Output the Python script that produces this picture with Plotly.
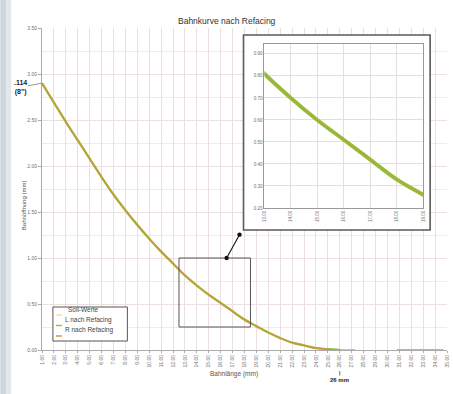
import plotly.graph_objects as go

# ---------------- data ----------------
x_mm = [1, 2, 3, 4, 5, 6, 7, 8, 9, 10, 11, 12, 13, 14, 15, 16, 17, 18, 19, 20,
        21, 22, 23, 24, 25, 26]
soll_werte = [2.90, 2.69, 2.48, 2.28, 2.08, 1.88, 1.69, 1.52, 1.36, 1.21, 1.07,
              0.94, 0.81, 0.70, 0.60, 0.51, 0.42, 0.33, 0.26, 0.19, 0.13, 0.08,
              0.05, 0.02, 0.01, 0.00]
l_nach_refacing = [2.90, 2.69, 2.48, 2.28, 2.08, 1.88, 1.69, 1.52, 1.36, 1.21,
                   1.07, 0.94, 0.81, 0.70, 0.60, 0.51, 0.42, 0.33, 0.26, 0.19,
                   0.13, 0.08, 0.05, 0.02, 0.01, 0.00]
r_nach_refacing = [2.90, 2.69, 2.48, 2.28, 2.08, 1.88, 1.69, 1.52, 1.36, 1.21,
                   1.07, 0.94, 0.81, 0.70, 0.60, 0.51, 0.42, 0.33, 0.26, 0.19,
                   0.13, 0.08, 0.05, 0.02, 0.01, 0.00]
r_tail_x = [27.3, None, 30.8, 34.7]
r_tail_y = [0.00, None, 0.00, 0.00]

series_names = ["Soll-Werte", "L nach Refacing", "R nach Refacing"]
title_text = "Bahnkurve nach Refacing"
x_title = "Bahnlänge (mm)"
y_title = "Bahnöffnung (mm)"
start_label = "<b>.114<br>(8\")</b>"
mark_label = "<b>26 mm</b>"
mark_x = 26
start_x, start_y = 1, 2.90
zoom_x = [12.5, 18.5]
zoom_y = [0.25, 1.0]

# ---------------- styling ----------------
C_SOLL = "#efe3a0"
C_L = "#8cc63f"
C_R = "#dc8e3c"
GRID = "#ecdfdf"
TXT = "#707070"
FONT = "Liberation Sans, Arial, sans-serif"

W, H = 453, 394
ML, MR, MT, MB = 42, 3, 28, 44
PW, PH = W - ML - MR, H - MT - MB


def px(xp):
    return (xp - ML) / PW


def py(yp):
    return (H - MB - yp) / PH


fig = go.Figure()

# main subplot traces
fig.add_trace(go.Scatter(x=x_mm, y=soll_werte, mode="lines", name=series_names[0],
                         line=dict(color=C_SOLL, width=0.8), xaxis="x", yaxis="y"))
fig.add_trace(go.Scatter(x=x_mm, y=l_nach_refacing, mode="lines", name=series_names[1],
                         line=dict(color=C_L, width=2.4, shape="spline"), xaxis="x", yaxis="y"))
fig.add_trace(go.Scatter(x=x_mm + r_tail_x, y=r_nach_refacing + r_tail_y, mode="lines",
                         name=series_names[2], connectgaps=False,
                         line=dict(color=C_R, width=1.3, shape="spline"), xaxis="x", yaxis="y"))

# frame subplot (white background behind the inset)
fig.add_trace(go.Scatter(x=[None], y=[None], mode="lines", xaxis="x2", yaxis="y2",
                         hoverinfo="skip", showlegend=False))

# inset traces
fig.add_trace(go.Scatter(x=x_mm, y=l_nach_refacing, mode="lines", showlegend=False,
                         line=dict(color=C_L, width=4, shape="spline"), xaxis="x3", yaxis="y3"))
fig.add_trace(go.Scatter(x=x_mm, y=r_nach_refacing, mode="lines", showlegend=False,
                         line=dict(color="#b9a236", width=1.4, shape="spline"), xaxis="x3", yaxis="y3"))

tick_font = dict(size=5, color=TXT, family=FONT)

fig.update_layout(
    width=W, height=H,
    margin=dict(l=ML, r=MR, t=MT, b=MB),
    paper_bgcolor="white", plot_bgcolor="white",
    showlegend=False,
    font=dict(family=FONT),
    xaxis=dict(domain=[0, 1], anchor="y", range=[1, 35], tick0=1, dtick=1,
               tickformat=".2f", tickangle=-90, tickfont=tick_font,
               showgrid=True, gridcolor=GRID, gridwidth=1, zeroline=False,
               showline=True, linecolor="#aaaaaa", ticks="outside", ticklen=2,
               tickcolor="#aaaaaa"),
    yaxis=dict(domain=[0, 1], anchor="x", range=[0, 3.5], tick0=0, dtick=0.5,
               tickformat=".2f", tickfont=tick_font,
               showgrid=True, gridcolor=GRID, gridwidth=1, zeroline=False,
               showline=True, linecolor="#aaaaaa", ticks="outside", ticklen=3,
               tickcolor="#aaaaaa",
               minor=dict(dtick=0.25, showgrid=True, gridcolor="#f2eaea")),
    xaxis2=dict(domain=[px(245), px(433)], anchor="y2", range=[0, 1], visible=True,
                showgrid=False, zeroline=False, showline=False, showticklabels=False,
                ticks=""),
    yaxis2=dict(domain=[py(230), py(35)], anchor="x2", range=[0, 1], visible=True,
                showgrid=False, zeroline=False, showline=False, showticklabels=False,
                ticks=""),
    xaxis3=dict(domain=[px(266), px(426)], anchor="y3", range=[13, 19], tick0=13, dtick=1,
                tickformat=".2f", tickangle=-90, tickfont=dict(size=4.5, color=TXT, family=FONT),
                showgrid=True, gridcolor="#e6dede", zeroline=False,
                showline=True, mirror=True, linecolor="#999999", ticks=""),
    yaxis3=dict(domain=[py(208), py(44)], anchor="x3", range=[0.2, 0.945], tick0=0.2, dtick=0.1,
                tickformat=".2f", tickfont=dict(size=4.5, color=TXT, family=FONT),
                showgrid=True, gridcolor="#e6dede", zeroline=False,
                showline=True, mirror=True, linecolor="#999999", ticks=""),
)

shapes = [
    # left bluish strip of the photo background
    dict(type="rect", xref="paper", yref="paper", x0=px(0), x1=px(6), y0=py(H), y1=py(0),
         fillcolor="#cdd5de", line=dict(width=0), layer="below"),
    dict(type="rect", xref="paper", yref="paper", x0=px(6), x1=px(11), y0=py(H), y1=py(0),
         fillcolor="#e2e7ec", line=dict(width=0), layer="below"),
    # zoom box in main chart
    dict(type="rect", xref="x", yref="y", x0=zoom_x[0], x1=zoom_x[1], y0=zoom_y[0], y1=zoom_y[1],
         line=dict(color="#555555", width=1), layer="above"),
    # inset frame
    dict(type="rect", xref="paper", yref="paper", x0=px(245), x1=px(433), y0=py(230), y1=py(35),
         line=dict(color="#5a5a5a", width=1.6), layer="above"),
]

annotations = [
    dict(text=title_text, xref="paper", yref="paper", x=px(228), y=py(14),
         showarrow=False, font=dict(size=8.5, color="#333333", family=FONT)),
    dict(text=x_title, xref="paper", yref="paper", x=px(235), y=py(380),
         showarrow=False, font=dict(size=6.5, color="#555555", family=FONT)),
    dict(text=y_title, xref="paper", yref="paper", x=px(19), y=py(205), textangle=-90,
         showarrow=False, font=dict(size=6, color="#555555", family=FONT)),
    dict(text=start_label, x=start_x, y=start_y, xref="x", yref="y",
         showarrow=True, arrowhead=0, arrowwidth=1, arrowcolor="#999999",
         ax=-22, ay=4, font=dict(size=7, color="#222222", family=FONT)),
    dict(text=mark_label, x=mark_x, xref="x", yref="paper", y=py(371),
         showarrow=True, arrowhead=0, arrowwidth=0.8, arrowcolor="#444444",
         ax=0, ay=9, font=dict(size=6, color="#222222", family=FONT)),
    # double-ended connector arrow from zoom box to inset
    dict(x=16.5, y=zoom_y[1], xref="x", yref="y", ax=17.65, ay=1.27, axref="x", ayref="y",
         showarrow=True, arrowhead=6, startarrowhead=6, arrowside="end+start",
         arrowsize=1, arrowwidth=1.1, arrowcolor="#111111", text=""),
]

# manual legend (compact, as in the picture)
legend_colors = [C_SOLL, C_L, C_R]
legend_y = [315, 325.5, 336]
legend_text_x = [66, 63, 63]
shapes.append(dict(type="rect", xref="paper", yref="paper", x0=px(53), x1=px(128),
                   y0=py(341), y1=py(307), line=dict(color="#555555", width=1),
                   fillcolor="white", layer="above"))
for name, col, yy, tx in zip(series_names, legend_colors, legend_y, legend_text_x):
    shapes.append(dict(type="line", xref="paper", yref="paper", x0=px(56), x1=px(62),
                       y0=py(yy), y1=py(yy), line=dict(color=col, width=1.5), layer="above"))
    annotations.append(dict(text=name, xref="paper", yref="paper", x=px(tx), y=py(yy),
                            xanchor="left", showarrow=False,
                            font=dict(size=6.5, color="#444444", family=FONT)))

fig.update_layout(shapes=shapes, annotations=annotations)

fig.write_html("out.html", config={"displayModeBar": False},
               post_script="document.body.style.margin='0';document.body.style.overflow='hidden';")
